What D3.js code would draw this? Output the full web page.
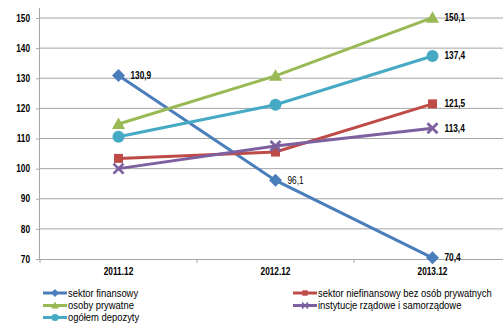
<!DOCTYPE html>
<html><head><meta charset="utf-8">
<script src="https://cdn.jsdelivr.net/npm/d3@7"></script>
<style>body{margin:0;background:#fff}svg{display:block}</style>
</head><body>
<svg id="c" width="503" height="323"></svg>
<script>
const categories = ["2011.12", "2012.12", "2013.12"];
const seriesNames = ["sektor finansowy", "sektor niefinansowy bez osób prywatnych", "osoby prywatne", "instytucje rządowe i samorządowe", "ogółem depozyty"];
const finansowy = [130.9, 96.1, 70.4];
const niefinansowy = [103.4, 105.5, 121.5];
const prywatne = [114.8, 130.8, 150.1];
const rzadowe = [100.0, 107.5, 113.4];
const ogolem = [110.6, 121.2, 137.4];
const yTicks = [70, 80, 90, 100, 110, 120, 130, 140, 150];
const colors = ["#4a7ebb", "#be4b48", "#98b954", "#7d60a0", "#46aac5"];
const symbols = ["diamond", "square", "triangle", "x", "circle"];

const series = [finansowy, niefinansowy, prywatne, rzadowe, ogolem];
const svg = d3.select("#c");
const pl = 40, pr = 511, pt = 18, pb = 259;
const x = d3.scaleBand().domain(categories).range([pl, pr]);
const y = d3.scaleLinear().domain([70, 150]).range([pb, pt]);
const font = "'Liberation Sans', Arial, sans-serif";
const sx = 0.83;

// gridlines
svg.append("g").selectAll("line").data(yTicks.filter(t => t > 70)).join("line")
  .attr("x1", pl).attr("x2", 503).attr("y1", d => y(d)).attr("y2", d => y(d))
  .attr("stroke", "#a6a6a6").attr("stroke-width", 1);

// y axis
const ya = svg.append("g").attr("transform", `translate(${pl},0)`)
  .call(d3.axisLeft(y).tickValues(yTicks).tickSize(4).tickPadding(6));
ya.select(".domain").attr("stroke", "#a6a6a6").attr("d", `M-0.5,${pt-10}V${pb}`);
ya.selectAll(".tick line").attr("stroke", "#a6a6a6");
ya.selectAll("text").attr("font-family", font).attr("font-weight", "bold").attr("font-size", 10).attr("fill", "#000")
  .attr("x", -10 / sx).attr("transform", `scale(${sx},1)`);

// x axis
const xa = svg.append("g").attr("transform", `translate(0,${pb})`)
  .call(d3.axisBottom(x).tickSize(0).tickPadding(9));
xa.select(".domain").attr("stroke", "#a6a6a6").attr("d", `M${pl},0.5H503`);
xa.selectAll("text").attr("font-family", font).attr("font-weight", "bold").attr("font-size", 10).attr("fill", "#000")
  .attr("transform", `scale(${sx},1)`);
svg.append("g").selectAll("line").data(categories.map(c => x(c)).concat([x(categories[2]) + x.bandwidth()])).join("line")
  .attr("x1", d => d).attr("x2", d => d).attr("y1", pb).attr("y2", pb + 4).attr("stroke", "#a6a6a6");

function marker(g, type, cx, cy, color, s) {
  s = s || 1;
  if (type === "diamond") g.append("path").attr("d", `M${cx},${cy-6.5*s}L${cx+6.5*s},${cy}L${cx},${cy+6.5*s}L${cx-6.5*s},${cy}Z`).attr("fill", color);
  else if (type === "square") g.append("rect").attr("x", cx-4.5*s).attr("y", cy-4.5*s).attr("width", 9*s).attr("height", 9*s).attr("fill", color);
  else if (type === "triangle") g.append("path").attr("d", `M${cx},${cy-6.5*s}L${cx+6.5*s},${cy+5*s}L${cx-6.5*s},${cy+5*s}Z`).attr("fill", color);
  else if (type === "circle") g.append("circle").attr("cx", cx).attr("cy", cy).attr("r", 6*s).attr("fill", color);
  else if (type === "x") g.append("path").attr("d", `M${cx-5*s},${cy-5*s}L${cx+5*s},${cy+5*s}M${cx+5*s},${cy-5*s}L${cx-5*s},${cy+5*s}`).attr("stroke", color).attr("stroke-width", 2.8*s).attr("fill", "none");
}

const line = d3.line().x((d, i) => x(categories[i]) + x.bandwidth() / 2).y(d => y(d));
[0, 1, 2, 3, 4].forEach(si => {
  const g = svg.append("g");
  g.append("path").attr("d", line(series[si])).attr("fill", "none").attr("stroke", colors[si]).attr("stroke-width", 3);
  series[si].forEach((v, i) => marker(g, symbols[si], x(categories[i]) + x.bandwidth() / 2, y(v), colors[si]));
});

// data labels
const labels = [[0, 0], [0, 1], [0, 2], [1, 2], [2, 2], [3, 2], [4, 2]];
svg.append("g").selectAll("text").data(labels).join("text")
  .attr("transform", d => `translate(${x(categories[d[1]]) + x.bandwidth() / 2 + 12},${y(series[d[0]][d[1]]) + 3.5}) scale(${sx},1)`)
  .attr("font-family", font).attr("font-weight", d => d[1] === 1 ? "normal" : "bold").attr("font-size", 10).attr("fill", "#000")
  .text(d => series[d[0]][d[1]].toFixed(1).replace(".", ","));

// legend
const legPos = [[43, 293], [293, 293], [43, 305.5], [293, 305.5], [43, 317.5]];
seriesNames.forEach((n, i) => {
  const g = svg.append("g");
  const [lx, ly] = legPos[i];
  g.append("line").attr("x1", lx).attr("x2", lx + 24).attr("y1", ly).attr("y2", ly).attr("stroke", colors[i]).attr("stroke-width", 3);
  marker(g, symbols[i], lx + 12, ly, colors[i], 0.6);
  g.append("text").attr("transform", `translate(${lx + 25},${ly + 3.5}) scale(0.82,1)`).attr("font-family", font)
    .attr("font-size", 11.5).attr("fill", "#000").text(n);
});
</script>
</body></html>
